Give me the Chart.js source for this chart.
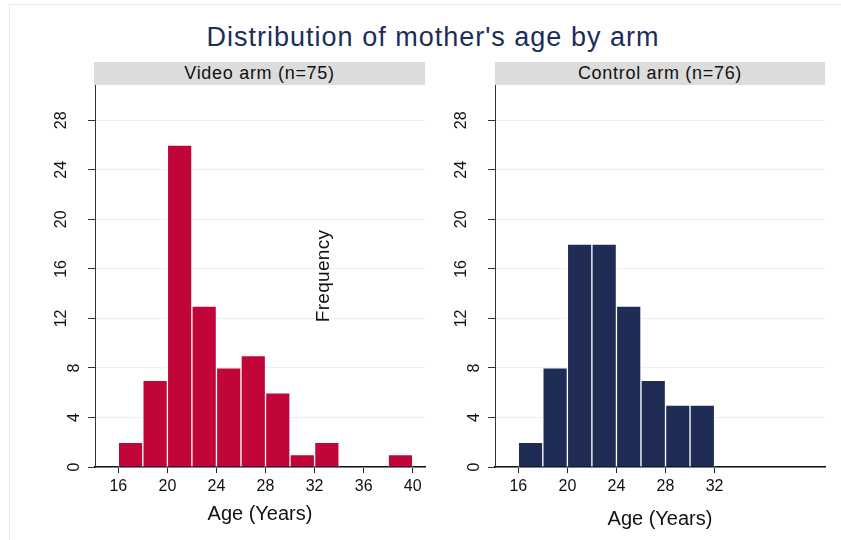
<!DOCTYPE html>
<html>
<head>
<meta charset="utf-8">
<title>Distribution of mother's age by arm</title>
<script src="https://cdn.jsdelivr.net/npm/chart.js@4/dist/chart.umd.min.js"></script>
<style>
  html, body { margin: 0; padding: 0; background: #ffffff; }
  #page { position: relative; width: 841px; height: 540px; overflow: hidden;
          font-family: "Liberation Sans", Arial, sans-serif; color: #111; }
  .frame { position: absolute; left: 9px; top: 4px; right: -5px; bottom: -5px;
           border-left: 1px solid #e3ebef; border-top: 1px solid #e3ebef; }
  #title { position: absolute; left: 0; width: 866px; top: 24px; height: 27px; line-height: 27px;
           text-align: center; font-size: 27px; letter-spacing: 1px; color: #1c2d5a; white-space: nowrap; }
  .strip { position: absolute; top: 62px; height: 23px; line-height: 23px; background: #dcdcdc;
           text-align: center; font-size: 18px; letter-spacing: 0.7px; color: #111; white-space: nowrap; }
  #stripVideo { left: 94px; width: 331px; }
  #stripControl { left: 495px; width: 330px; }
  .panel { position: absolute; top: 85px; width: 430px; height: 455px; }
  #panelVideo { left: 0; }
  #panelControl { left: 400px; }
  #freqLabel { position: absolute; left: 263px; top: 264px; width: 120px; height: 24px; line-height: 24px;
               text-align: center; font-size: 19px; letter-spacing: 0.3px; color: #111;
               transform: rotate(-90deg); white-space: nowrap; }
</style>
</head>
<body>
<div id="page">
  <div class="frame"></div>
  <div id="title">Distribution of mother's age by arm</div>
  <div class="strip" id="stripVideo">Video arm (n=75)</div>
  <div class="strip" id="stripControl">Control arm (n=76)</div>
  <div class="panel" id="panelVideo"><canvas id="videoChart" width="430" height="455"></canvas></div>
  <div class="panel" id="panelControl"><canvas id="controlChart" width="430" height="455"></canvas></div>
  <div id="freqLabel">Frequency</div>
</div>
<script>
// Histogram bins: 2-year age bins, left edge of each bin and its count
const binWidth = 2;
const videoBinStarts = [16, 18, 20, 22, 24, 26, 28, 30, 32, 34, 36, 38];
const videoCounts    = [2, 7, 26, 13, 8, 9, 6, 1, 2, 0, 0, 1];
const controlBinStarts = [16, 18, 20, 22, 24, 26, 28, 30];
const controlCounts    = [2, 8, 18, 18, 13, 7, 5, 5];

// Axis ticks and ranges
const frequencyTicks  = [0, 4, 8, 12, 16, 20, 24, 28];
const videoAgeTicks   = [16, 20, 24, 28, 32, 36, 40];
const controlAgeTicks = [16, 20, 24, 28, 32];
const ageMin = 14.1;
const ageMax = 41.0;
const frequencyMax = 30.85;

const FONT = '"Liberation Sans", Arial, sans-serif';

function histogram(canvasId, binStarts, counts, ageTicks, barColor, titleGap) {
  const points = binStarts.map((start, i) => ({ x: start + binWidth / 2, y: counts[i] }));
  return new Chart(document.getElementById(canvasId), {
    type: 'bar',
    data: {
      datasets: [{
        data: points,
        backgroundColor: barColor,
        borderColor: '#ffffff',
        borderWidth: 1,
        borderSkipped: 'bottom',
        barPercentage: 1,
        categoryPercentage: 1
      }]
    },
    options: {
      responsive: false,
      animation: false,
      devicePixelRatio: 1,
      layout: { padding: { left: 0, right: 5, top: 0, bottom: 0 } },
      plugins: { legend: { display: false }, tooltip: { enabled: false }, title: { display: false } },
      scales: {
        x: {
          type: 'linear',
          min: ageMin,
          max: ageMax,
          offset: false,
          grid: { offset: false, drawOnChartArea: false, drawTicks: true, tickLength: 6, tickColor: '#222', tickWidth: 1 },
          border: { display: true, color: '#111', width: 1.5 },
          ticks: { color: '#111', font: { family: FONT, size: 16 }, padding: 4, maxRotation: 0, autoSkip: false },
          afterBuildTicks: s => { s.ticks = ageTicks.map(v => ({ value: v })); },
          afterFit: s => { s.height = 73; s.paddingLeft = 0; s.paddingRight = 0; },
          title: { display: true, text: 'Age (Years)', color: '#111',
                   font: { family: FONT, size: 20 }, padding: { top: 0, bottom: titleGap } }
        },
        y: {
          min: 0,
          max: frequencyMax,
          grid: { color: '#e8f0f2', lineWidth: 1, drawTicks: true, tickLength: 7, tickColor: '#333', tickWidth: 1 },
          border: { display: true, color: '#333', width: 1 },
          ticks: {
            color: '#111',
            minRotation: 90,
            maxRotation: 90,
            crossAlign: 'center',
            padding: 5,
            font: { family: FONT, size: 16, lineHeight: 26 / 16 },
            // two-digit labels sit one step further out from the axis
            callback: v => (String(v).length > 1 ? [String(v), ''] : String(v))
          },
          afterBuildTicks: s => { s.ticks = frequencyTicks.map(v => ({ value: v })); },
          afterFit: s => { s.width = 95; s.paddingTop = 0; s.paddingBottom = 0; }
        }
      }
    }
  });
}

histogram('videoChart', videoBinStarts, videoCounts, videoAgeTicks, '#c10538', 14);
histogram('controlChart', controlBinStarts, controlCounts, controlAgeTicks, '#1f2c55', 9);
</script>
</body>
</html>
